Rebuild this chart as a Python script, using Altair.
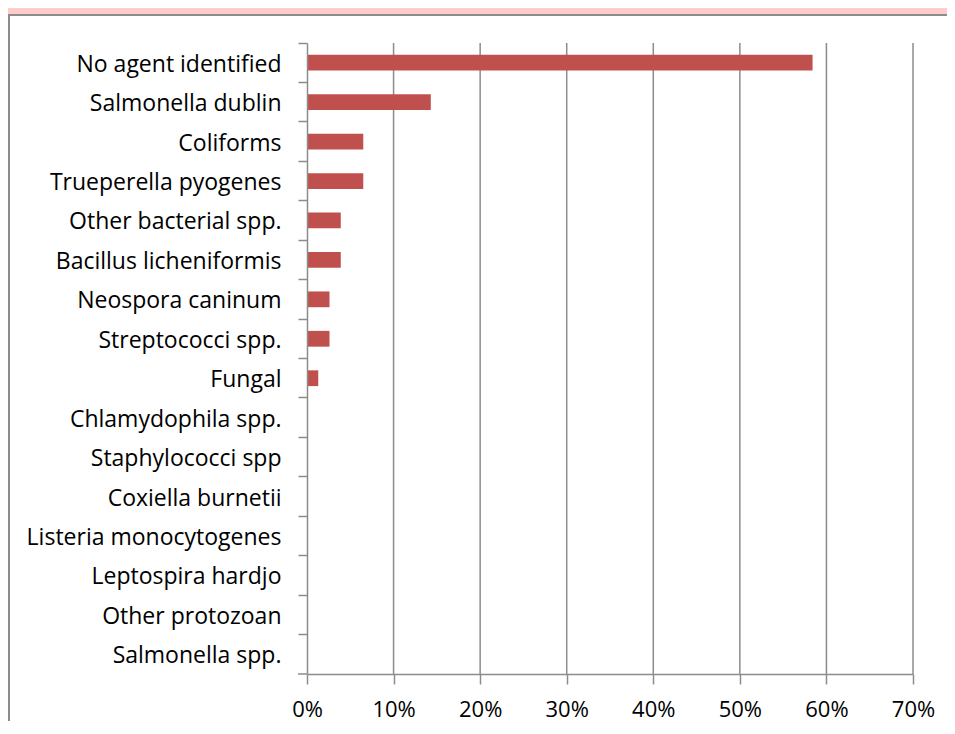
import altair as alt
import pandas as pd

categories = [
    "No agent identified",
    "Salmonella dublin",
    "Coliforms",
    "Trueperella pyogenes",
    "Other bacterial spp.",
    "Bacillus licheniformis",
    "Neospora caninum",
    "Streptococci spp.",
    "Fungal",
    "Chlamydophila  spp.",
    "Staphylococci spp",
    "Coxiella burnetii",
    "Listeria monocytogenes",
    "Leptospira hardjo\u00a0",
    "Other protozoan",
    "Salmonella spp.",
]
shares = [0.584, 0.143, 0.065, 0.065, 0.039, 0.039, 0.026, 0.026, 0.013,
          0.0, 0.0, 0.0, 0.0, 0.0, 0.0, 0.0]
tick_values = [0.0, 0.1, 0.2, 0.3, 0.4, 0.5, 0.6, 0.7]

df = pd.DataFrame({"agent": categories, "share": shares})
df_ticks = pd.DataFrame({"t": tick_values[1:]})

GRAY = "#8c8c8c"
FONT = "Open Sans"

xscale = alt.Scale(domain=[0, 0.7], nice=False, zero=True)
xaxis = alt.Axis(
    values=tick_values, format=".0%", title=None, grid=False,
    tickSize=10, labelPadding=15, zindex=1, labelFlush=False,
    labelFontSize=22,
)

bg = alt.Chart(pd.DataFrame({"a": [0]})).mark_rect(
    fill="white", stroke=GRAY, strokeWidth=2
).encode(
    x=alt.value(-298), x2=alt.value(1200),
    y=alt.value(-28), y2=alt.value(1200),
)

grid = alt.Chart(df_ticks).mark_rule(color=GRAY, strokeWidth=1.5).encode(
    x=alt.X("t:Q", scale=xscale, axis=xaxis)
)

# closing category tick at the bottom of the y axis
corner = alt.Chart(pd.DataFrame({"a": [0]})).mark_rule(
    color=GRAY, strokeWidth=1.5
).encode(
    x=alt.value(-9), x2=alt.value(0), y=alt.value(631)
)

bars = alt.Chart(df).mark_bar(
    color="#C0504D", height=alt.RelativeBandSize(0.40)
).encode(
    x=alt.X("share:Q", scale=xscale, axis=xaxis),
    y=alt.Y(
        "agent:N",
        sort=categories,
        scale=alt.Scale(paddingInner=0, paddingOuter=0),
        axis=alt.Axis(
            title=None, bandPosition=0, tickSize=9, labelPadding=17,
            grid=False, zindex=1, labelLimit=400, labelOffset=2,
        ),
    ),
)

chart = alt.layer(bg, grid, bars, corner).properties(
    width=606,
    height=631,
    autosize=alt.AutoSizeParams(type="none"),
    padding={"left": 299, "top": 35, "right": 34, "bottom": 47},
    background="#FFCCCC",
).configure_view(stroke=None).configure_axis(
    domainColor=GRAY, domainWidth=1.5, tickColor=GRAY, tickWidth=1.5,
    labelFont=FONT, labelFontSize=23, labelColor="black",
)

chart.save("out.html", embed_options={"renderer": "svg", "actions": False})
